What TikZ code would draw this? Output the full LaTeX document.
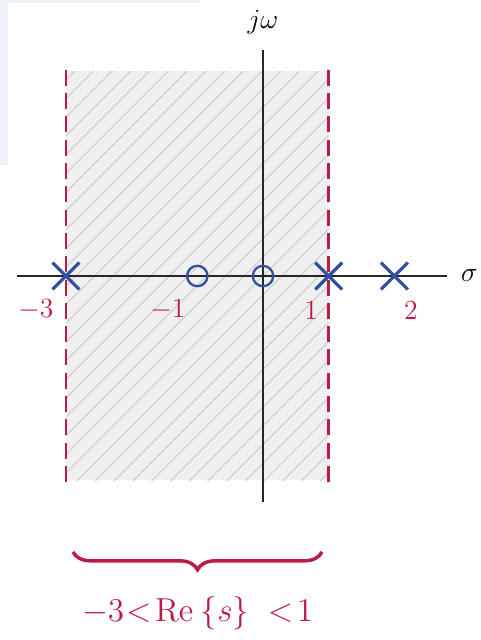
\documentclass[tikz,border=0pt]{standalone}
\usepackage{amsmath,amssymb}
\usepackage{xcolor,tikz}
\usetikzlibrary{positioning,calc,shapes.misc,decorations.pathreplacing}

\definecolor{rocred}{RGB}{188,28,68}
\definecolor{pzblue}{RGB}{50,80,162}
\definecolor{rocfill}{RGB}{240,240,240}
\definecolor{hatchgray}{RGB}{212,212,212}
\definecolor{tint}{RGB}{238,242,247}

\tikzset{
 pole/.style={cross out,draw=pzblue,line width=1.4pt,minimum size=0.36cm,inner sep=0pt},
 zero/.style={circle,draw=pzblue,line width=1pt,minimum size=0.31cm,inner sep=0pt},
 tick/.style={text=rocred,inner sep=0pt},
 rocline/.style={rocred,line width=1.1pt,dash pattern=on 6.93pt off 3.16pt},
 hatch/.style={hatchgray,line width=0.6pt},
 axis/.style={black!85,line width=1pt},
}

\begin{document}
\begin{tikzpicture}[x=1cm,y=1cm,font=\fontsize{12.9pt}{15pt}\selectfont]
 \useasboundingbox (-4.003,-5.540) rectangle (3.303,4.201);
 % screenshot tint
 \fill[tint] (-4.003,4.201) rectangle (-3.881,1.69);
 \fill[tint] (-4.003,4.201) rectangle (-0.96,4.16);
 % region of convergence
 \begin{scope}
 \clip (-3,-3.11) rectangle (1,3.12);
 \fill[rocfill] (-3,-3.11) rectangle (1,3.12);
 \foreach \k in {-22,...,15}
 \draw[hatch] ({\k*0.285-3.3},-3.3) -- ++(6.6,6.6);
 \end{scope}
 \draw[rocline] (-3,-3.135) -- (-3,3.135);
 \draw[rocline] (1,-3.135) -- (1,3.135);
 % axes
 \coordinate (xl) at (-3.744,0);
 \coordinate (xr) at (2.795,0);
 \coordinate (yb) at (0,-3.44);
 \coordinate (yt) at (0,3.44);
 \draw[axis] (xl) -- (xr);
 \draw[axis] (yb) -- (yt);
 \node (sig) at (3.14,0) {$\sigma$};
 \node (jw) at (0,3.87) {$j\omega$};
 % poles and zeros
 \node[pole] (p1) at (-3,0) {};
 \node[pole] (p2) at (1,0) {};
 \node[pole] (p3) at (2,0) {};
 \node[zero] (z1) at (-1,0) {};
 \node[zero] (z2) at (0,0) {};
 \node[tick] (lm3) at (-3.455,-0.52) {$-3$};
 \node[tick] (lm1) at (-1.446,-0.52) {$-1$};
 \node[tick] (l1) at (0.731,-0.52) {$1$};
 \node[tick] (l2) at (2.25,-0.52) {$2$};
 % brace
 \coordinate (bl) at (-2.892,-4.2);
 \coordinate (br) at (0.898,-4.2);
 \draw[rocred,line width=1.5pt,decorate,decoration={brace,mirror,amplitude=0.27cm}] (bl) -- (br);
 \node[text=rocred,font=\fontsize{13.4pt}{16pt}\selectfont] (roc) at (-0.995,-5.13)
 {$-3\mkern1mu{<}\mkern2mu\mathrm{Re}\mkern4mu\{s\}\mkern10mu{<}\mkern2mu1$};
\end{tikzpicture}
\end{document}
